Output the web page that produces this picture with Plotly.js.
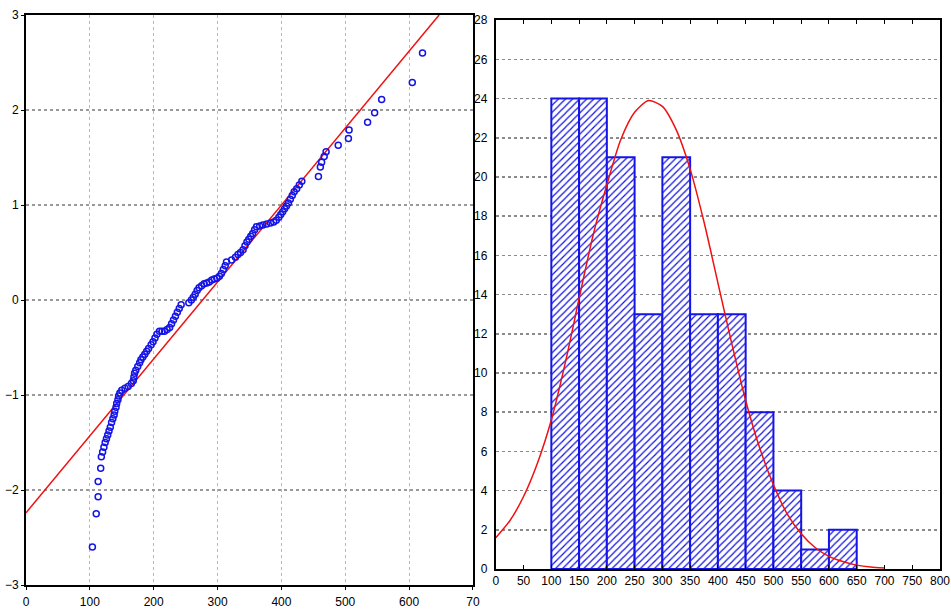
<!DOCTYPE html>
<html>
<head>
<meta charset="utf-8">
<script src="https://cdn.plot.ly/plotly-3.0.1.min.js"></script>
<style>html,body{margin:0;padding:0;background:#fff;}#chart{width:951px;height:610px;}</style>
</head>
<body>
<div id="chart"></div>
<script>
// ---- Left panel: normal probability plot (observed value vs expected normal value)
var qqX = [104,110,113,113,117,118,120,122,124,126,128,130,132,134,136,138,139,141,142,144,145,147,150,155,160,165,168,169,170,172,175,178,180,183,186,189,192,196,199,202,205,209,213,217,221,225,228,231,234,237,240,243,255,259,
           262,265,268,271,275,279,283,287,291,295,299,303,306,309,312,314,322,328,332,336,340,343,346,349,352,355,358,361,366,371,377,383,388,392,396,399,402,405,408,411,414,417,420,424,428,432,458,461,463,467,470,489,505,506,535,546,557,605,621];
var qqY = [-2.60,-2.25,-2.07,-1.91,-1.77,-1.65,-1.60,-1.55,-1.50,-1.46,-1.42,-1.38,-1.34,-1.29,-1.25,-1.21,-1.17,-1.13,-1.09,-1.05,-1.01,-0.98,-0.95,-0.93,-0.91,-0.88,-0.85,-0.81,-0.77,-0.74,-0.70,-0.66,-0.63,-0.60,-0.57,-0.54,-0.51,-0.47,-0.44,-0.40,-0.36,-0.33,-0.33,-0.33,-0.31,-0.29,-0.25,-0.21,-0.17,-0.13,-0.09,-0.05,-0.03,0.00,
           0.03,0.06,0.10,0.13,0.15,0.17,0.18,0.19,0.21,0.22,0.23,0.25,0.28,0.32,0.36,0.40,0.42,0.45,0.48,0.50,0.53,0.57,0.61,0.64,0.67,0.70,0.74,0.77,0.78,0.79,0.80,0.81,0.82,0.84,0.87,0.90,0.93,0.96,0.99,1.02,1.06,1.10,1.14,1.17,1.21,1.25,1.30,1.40,1.45,1.51,1.56,1.63,1.70,1.79,1.87,1.97,2.11,2.29,2.60];
var refLineX = [0, 647];
var refLineY = [-2.24, 3.0];
var qqXTicks = [0,100,200,300,400,500,600,700];
var qqXTickText = ['0','100','200','300','400','500','600','70'];
var qqYTicks = [-3,-2,-1,0,1,2,3];

// ---- Right panel: histogram with fitted normal curve
var binCenters = [125,175,225,275,325,375,425,475,525,575,625];
var binCounts  = [24,24,21,13,21,13,13,8,4,1,2];
var curveX = [0,25,50,75,100,125,150,175,200,225,250,275,300,325,350,375,400,425,450,475,500,525,550,575,600,625,650,675,700];
var curveY = [1.6,2.45,3.7,5.4,7.6,10.5,13.8,17.0,19.6,21.9,23.3,23.9,23.6,22.4,20.4,17.7,14.6,11.5,8.6,6.2,4.3,2.8,1.8,1.1,0.65,0.38,0.2,0.1,0.05];
var histXTicks = [0,50,100,150,200,250,300,350,400,450,500,550,600,650,700,750,800];
var histYTicks = [0,2,4,6,8,10,12,14,16,18,20,22,24,26,28];

var BLUE = '#1414e6';
var RED = '#f01010';
var tickFont = {family: 'Liberation Sans, Arial, sans-serif', size: 12, color: '#000'};

var traces = [
  {type:'scatter', mode:'lines', x: refLineX, y: refLineY, xaxis:'x', yaxis:'y',
   line:{color:RED, width:1.5}, hoverinfo:'skip'},
  {type:'scatter', mode:'markers', x: qqX, y: qqY, xaxis:'x', yaxis:'y',
   marker:{symbol:'circle-open', size:6, color:BLUE, line:{width:1.5, color:BLUE}}},
  {type:'bar', x: binCenters, y: binCounts, width: 50, xaxis:'x2', yaxis:'y2',
   marker:{color:'#ffffff', line:{color:BLUE, width:2},
           pattern:{shape:'/', fgcolor:BLUE, bgcolor:'#ffffff', size:5, solidity:0.25}}},
  {type:'scatter', mode:'lines', x: curveX, y: curveY, xaxis:'x2', yaxis:'y2',
   line:{color:RED, width:1.5, shape:'spline', smoothing:0.7}, hoverinfo:'skip'}
];

var layout = {
  width: 951, height: 610,
  margin: {l:26, r:11, t:15, b:25},
  paper_bgcolor:'#ffffff', plot_bgcolor:'#ffffff',
  showlegend:false,
  bargap:0,
  xaxis: {domain:[0, 0.489], range:[0,700], tickvals: qqXTicks, ticktext: qqXTickText,
          showgrid:true, gridcolor:'#b8b8b8', griddash:'dot', gridwidth:1,
          showline:true, linecolor:'#000', linewidth:2, mirror:true,
          ticks:'outside', ticklen:3, tickcolor:'#000', tickfont: tickFont, ticklabelstandoff:2,
          zeroline:false, fixedrange:true},
  yaxis: {domain:[0,1], range:[-3,3], tickvals: qqYTicks,
          showgrid:true, gridcolor:'#999999', griddash:'dot', gridwidth:1.5,
          showline:true, linecolor:'#000', linewidth:2, mirror:true,
          ticks:'outside', ticklen:3, tickcolor:'#000', tickfont: tickFont,
          zeroline:false, fixedrange:true},
  xaxis2: {domain:[0.514, 1], range:[0,800], tickvals: histXTicks, anchor:'y2',
           showgrid:false, showline:true, linecolor:'#000', linewidth:2, mirror:'ticks',
           ticks:'inside', ticklen:4, tickcolor:'#000', tickfont: tickFont,
           zeroline:false, fixedrange:true},
  yaxis2: {domain:[0.028, 0.991], range:[0,28], tickvals: histYTicks, anchor:'x2',
           showgrid:true, gridcolor:'#8a8a8a', griddash:'dot', gridwidth:1.5,
           showline:true, linecolor:'#000', linewidth:2, mirror:true,
           ticks:'', tickfont: tickFont, ticklabelstandoff:4,
           zeroline:false, fixedrange:true}
};

Plotly.newPlot('chart', traces, layout, {displayModeBar:false, staticPlot:true});
</script>
</body>
</html>
